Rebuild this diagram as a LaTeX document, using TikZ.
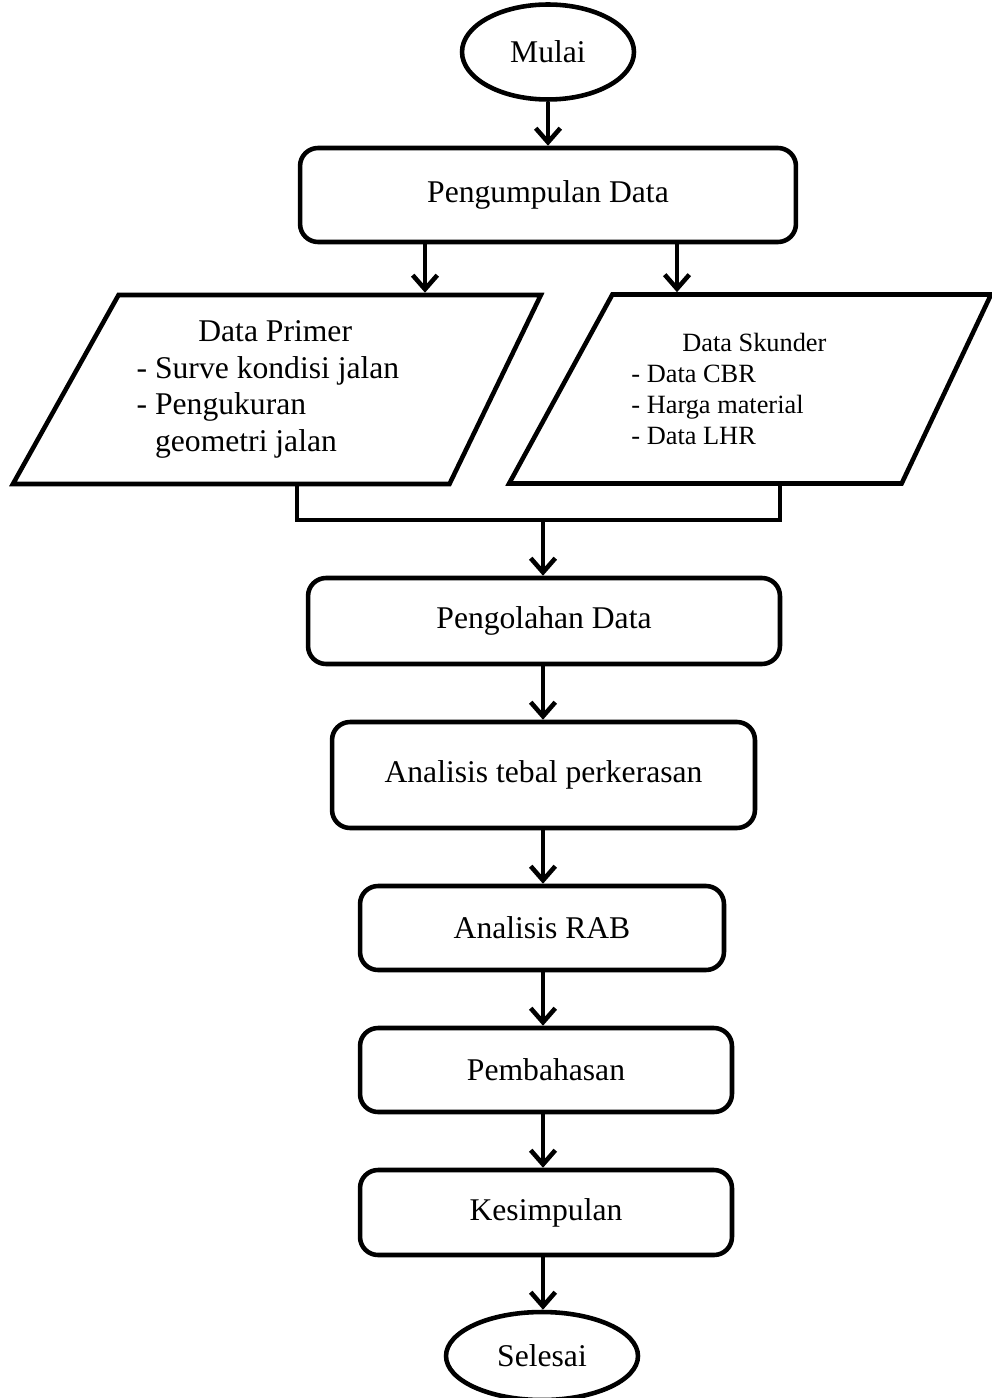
\documentclass[tikz,border=0pt]{standalone}
\usepackage{fontspec}
\setmainfont{Liberation Serif}
\usetikzlibrary{shapes.geometric,arrows.meta}

\tikzset{
	garis/.style={line width=2.6pt},
	panah/.style={garis,-{Straight Barb[length=8pt,width=14pt,line width=2.6pt]}},
	proses/.style={draw,garis,rounded corners=0.36cm,font=\fontsize{18}{21}\selectfont},
	terminal/.style={draw,garis,ellipse,inner sep=0pt,font=\fontsize{18}{21}\selectfont},
	datain/.style={draw,garis,trapezium,trapezium stretches body,minimum height=3.78cm}
}

\begin{document}
\begin{tikzpicture}[x=0.02cm,y=-0.02cm]
	\useasboundingbox (0,0) rectangle (991,1398);

	\node[terminal,minimum width=3.44cm,minimum height=1.9cm] (mulai) at (548,52) {Mulai};
	\node[proses,minimum width=9.92cm,minimum height=1.88cm] (kumpul) at (548,195) {Pengumpulan Data};

	\node[datain,trapezium left angle=54.7,trapezium right angle=121.5,minimum width=10.56cm,
		align=left,font=\fontsize{18}{20.8}\selectfont] (primer) at (284,389.5)
		{\hspace*{1.95em}Data Primer\\- Surve kondisi jalan\rule{0.64cm}{0pt}\\- Pengukuran\\\phantom{- }geometri jalan};
	\node[datain,trapezium left angle=50,trapezium right angle=126,minimum width=9.64cm,
		align=left,font=\fontsize{15}{17.6}\selectfont] (skunder) at (757,389)
		{\hspace*{1.93em}Data Skunder\\- Data CBR\\- Harga material\rule{1.58cm}{0pt}\\- Data LHR};

	\node[proses,minimum width=9.44cm,minimum height=1.72cm] (olah) at (544,621) {Pengolahan Data};
	\node[proses,minimum width=8.46cm,minimum height=2.12cm] (tebal) at (543.5,775) {Analisis tebal perkerasan};
	\node[proses,minimum width=7.28cm,minimum height=1.68cm] (rab) at (542,928) {Analisis RAB};
	\node[proses,minimum width=7.44cm,minimum height=1.68cm] (bahas) at (546,1070) {Pembahasan};
	\node[proses,minimum width=7.44cm,minimum height=1.70cm] (simpul) at (546,1212.5) {Kesimpulan};
	\node[terminal,minimum width=3.84cm,minimum height=1.76cm] (selesai) at (542,1356) {Selesai};

	\coordinate (sumbu) at (543,0);
	\coordinate (cabang-l) at (425,0);
	\coordinate (cabang-r) at (677,0);
	\coordinate (kaki-l) at (297,0);
	\coordinate (kaki-r) at (780,0);
	\coordinate (gabung) at (543,520);

	\draw[panah] (mulai) -- (kumpul);
	\draw[panah] (cabang-l |- kumpul.south) -- (cabang-l |- primer.north);
	\draw[panah] (cabang-r |- kumpul.south) -- (cabang-r |- skunder.north);

	\draw[garis] (kaki-l |- primer.south) |- (gabung) -| (kaki-r |- skunder.south);
	\draw[panah] (gabung) -- (sumbu |- olah.north);

	\draw[panah] (sumbu |- olah.south) -- (sumbu |- tebal.north);
	\draw[panah] (sumbu |- tebal.south) -- (sumbu |- rab.north);
	\draw[panah] (sumbu |- rab.south) -- (sumbu |- bahas.north);
	\draw[panah] (sumbu |- bahas.south) -- (sumbu |- simpul.north);
	\draw[panah] (sumbu |- simpul.south) -- (sumbu |- selesai.north);
\end{tikzpicture}
\end{document}
